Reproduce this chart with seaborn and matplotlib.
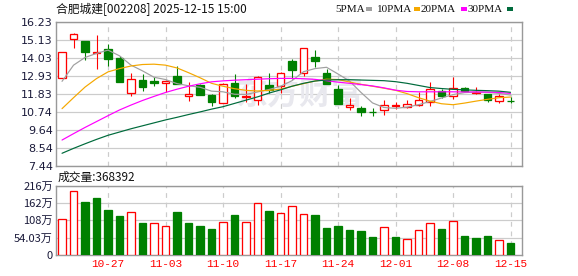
import numpy as np
import pandas as pd
import matplotlib
matplotlib.use("Agg")
import matplotlib.pyplot as plt
from matplotlib.patches import Rectangle
import seaborn as sns

# ---------------- data ----------------
dates = ['10-21','10-22','10-23','10-24','10-27','10-28','10-29','10-30','10-31',
         '11-03','11-04','11-05','11-06','11-07','11-10','11-11','11-12','11-13','11-14',
         '11-17','11-18','11-19','11-20','11-21','11-24','11-25','11-26','11-27','11-28',
         '12-01','12-02','12-03','12-04','12-05','12-08','12-09','12-10','12-11','12-12','12-15']
opens  = [12.83,15.19,15.06,14.33,14.55,14.04,11.91,12.67,12.60,12.50,12.91,11.68,12.36,11.74,
          11.30,12.52,11.62,11.48,12.36,12.32,13.83,13.14,14.08,13.11,12.15,11.02,10.99,10.73,
          10.82,11.10,11.02,11.17,11.33,12.01,11.68,12.22,11.88,11.80,11.39,11.42]
closes = [14.37,15.49,14.40,14.38,13.98,12.56,12.77,12.25,12.50,12.60,12.46,11.80,11.79,11.33,
          12.46,11.70,11.73,12.87,12.05,13.14,13.32,14.61,13.85,12.46,11.23,11.17,10.72,10.70,
          11.17,11.14,11.23,11.48,12.11,11.68,12.19,12.01,11.96,11.44,11.68,11.38]
highs  = [14.40,15.54,15.06,15.43,14.88,14.14,13.08,13.02,12.87,12.71,13.53,12.56,12.45,11.80,
          12.50,13.03,12.46,12.90,13.08,13.16,13.94,14.63,14.51,13.38,12.36,11.60,11.11,10.95,
          11.48,11.33,11.44,11.95,12.54,12.15,12.87,12.24,12.25,11.82,11.80,11.64]
lows   = [12.80,14.61,13.89,13.38,13.54,12.56,11.70,11.99,12.31,11.95,12.42,11.39,11.75,11.09,
          11.25,11.58,11.33,11.17,11.88,11.88,12.77,12.93,13.48,12.44,11.21,10.82,10.51,10.51,
          10.53,10.93,10.96,11.07,11.07,11.58,11.52,11.99,11.85,11.33,11.27,11.29]
ma5  = [12.60,13.59,14.06,14.31,14.51,14.16,13.59,13.24,12.85,12.71,12.46,12.33,12.24,12.00,
        11.96,11.81,11.80,11.95,12.10,12.30,12.64,13.19,13.38,13.46,13.05,12.62,11.92,11.28,
        11.00,10.95,11.02,11.17,11.37,11.58,11.79,11.91,11.95,11.93,11.86,11.76]
ma10 = [10.93,11.60,12.25,12.77,13.18,13.38,13.54,13.63,13.65,13.59,13.42,13.13,12.82,12.48,
        12.30,12.15,12.05,12.01,12.05,12.12,12.30,12.46,12.62,12.73,12.71,12.56,12.42,12.30,
        12.18,12.05,11.85,11.60,11.39,11.23,11.17,11.27,11.39,11.50,11.60,11.64]
ma20 = [9.01,9.40,9.78,10.14,10.50,10.85,11.15,11.43,11.68,11.92,12.12,12.30,12.45,12.57,
        12.63,12.67,12.70,12.73,12.76,12.78,12.78,12.76,12.72,12.64,12.55,12.48,12.40,12.32,
        12.20,12.06,11.98,11.96,11.96,11.96,11.96,11.95,11.95,11.94,11.92,11.86]
ma30 = [8.20,8.50,8.78,9.05,9.30,9.50,9.70,9.88,10.06,10.24,10.40,10.57,10.73,10.90,
        11.05,11.25,11.45,11.65,11.88,12.08,12.30,12.48,12.62,12.68,12.70,12.70,12.68,12.66,
        12.64,12.58,12.48,12.35,12.22,12.16,12.11,12.08,12.05,12.03,12.00,11.93]
volume = [111.0,199.4,165.0,177.6,140.0,121.5,133.0,100.7,98.7,89.3,134.0,100.7,90.3,81.0,
          101.8,124.6,101.8,161.0,137.0,130.0,152.7,127.7,124.6,84.0,90.3,77.9,74.8,56.0,
          86.2,56.0,48.8,76.8,98.7,81.0,104.9,59.2,53.0,59.2,45.7,36.8392]
price_ticks = ['16.23','15.13','14.03','12.93','11.83','10.74','9.64','8.54','7.44']
vol_tick_vals = [0, 54.03, 108, 162, 216]
vol_tick_labels = ['0', '54.03万', '108万', '162万', '216万']
title = '合肥城建[002208] 2025-12-15 15:00'
vol_title = '成交量:368392'
legend_names = ['5PMA', '10PMA', '20PMA', '30PMA']

# ---------------- style ----------------
RED = '#ff0000'
GREEN = '#008000'
MA_COLORS = ['#a0a0a0', '#f5a800', '#ff00ff', '#006b3c']
GRID = '#cccccc'
SPINE = '#999999'
W, H = 578, 276

sns.set_theme(style='white')
plt.rcParams['font.family'] = ['DejaVu Sans', 'Noto Sans CJK SC']
CJK = ['Noto Sans CJK SC', 'DejaVu Sans']

fig = plt.figure(figsize=(W / 100, H / 100), dpi=100)
fig.patch.set_facecolor('white')
L, R = 55.6, 522.0
ax = fig.add_axes([L / W, 1 - 165.7 / H, (R - L) / W, (165.7 - 22) / H])
axv = fig.add_axes([L / W, 1 - 255 / H, (R - L) / W, (255 - 185.7) / H])

n = len(dates)
x = np.arange(n)
xlim = (-0.56, n - 0.0)
tick_idx = [i for i in range(n) if dates[i] in
            ['10-27', '11-03', '11-10', '11-17', '11-24', '12-01', '12-08', '12-15']]

px = 0.72  # one pixel in points

# ---------------- price panel ----------------
pt = [float(v) for v in price_ticks]
ax.set_ylim(min(pt), max(pt))
ax.set_xlim(*xlim)
for v in pt:
    ax.axhline(v, color=GRID, lw=1.2 * px, zorder=0.2)
for i in tick_idx:
    ax.axvline(i, color=GRID, lw=1.2 * px, ls=(0, (4, 4)), zorder=0.2)

ax.text(20.6, 11.75, '东方财富', fontsize=23, color='#e8e8ee', ha='center', va='center',
        family=CJK, fontweight='bold', zorder=0.3)

bw = 0.62
for i in range(n):
    o, c, hi, lo = opens[i], closes[i], highs[i], lows[i]
    up = c >= o
    col = RED if up else GREEN
    ax.vlines(i, lo, hi, color=col, lw=1.1 * px, zorder=2)
    bottom = min(o, c)
    height = max(abs(c - o), 0.005)
    ax.bar(i, height, bottom=bottom, width=bw,
           facecolor='white' if up else GREEN, edgecolor=col,
           linewidth=1.3 * px, zorder=3)

ma_df = pd.DataFrame({'x': x, 'MA5': ma5, 'MA10': ma10, 'MA20': ma20, 'MA30': ma30})
for name, col in zip(['MA5', 'MA10', 'MA20', 'MA30'], MA_COLORS):
    sns.lineplot(data=ma_df, x='x', y=name, ax=ax, color=col, lw=1.2 * px, zorder=4)

ax.set_yticks(pt)
ax.set_yticklabels(price_ticks)
ax.set_xticks([])
ax.set_xlabel('')
ax.set_ylabel('')
ax.tick_params(axis='y', length=0, pad=2, labelsize=8, labelcolor='#1a1a3a')

# ---------------- volume panel ----------------
vol_df = pd.DataFrame({'x': x, 'vol': volume})
sns.barplot(data=vol_df, x='x', y='vol', ax=axv, native_scale=True, width=bw,
            color=GREEN, saturation=1, zorder=3)
for i, p in enumerate(axv.patches):
    vup = (closes[i] >= opens[i]) if i == 0 else (closes[i] >= closes[i - 1])
    if vup:
        p.set_facecolor('white')
        p.set_edgecolor(RED)
    else:
        p.set_facecolor(GREEN)
        p.set_edgecolor(GREEN)
    p.set_linewidth(1.3 * px)

axv.set_xlim(*xlim)
axv.set_ylim(0, 216.1)
for v in vol_tick_vals[1:]:
    axv.axhline(v, color=GRID, lw=1.2 * px, zorder=0.2)
for i in tick_idx:
    axv.axvline(i, color=GRID, lw=1.2 * px, ls=(0, (4, 4)), zorder=0.2)
axv.set_yticks(vol_tick_vals)
axv.set_yticklabels(vol_tick_labels, family=CJK)
axv.set_xticks(tick_idx)
axv.set_xticklabels([dates[i] for i in tick_idx], family=['Liberation Mono'],
                    color=RED, fontsize=8)
axv.set_xlabel('')
axv.set_ylabel('')
axv.tick_params(axis='y', length=0, pad=2, labelsize=8, labelcolor='#1a1a3a')
axv.tick_params(axis='x', length=0, pad=3)

for a in (ax, axv):
    for s in a.spines.values():
        s.set_color(SPINE)
        s.set_linewidth(1.4 * px)
    a.set_facecolor('white')

# ---------------- texts ----------------
fig.text(56 / W, 1 - 9.5 / H, title, fontsize=8.5, family=CJK, va='center', ha='left',
         color='#111111')
fig.text(58 / W, 1 - 177.5 / H, vol_title, fontsize=8.5, family=CJK, va='center', ha='left',
         color='#111111')

leg_text_x = [335, 377, 421, 468]
leg_sq_x = [366, 414, 461, 507]
for name, tx, sx, col in zip(legend_names, leg_text_x, leg_sq_x, MA_COLORS):
    fig.text(tx / W, 1 - 9.5 / H, name, fontsize=8, family=['Liberation Serif'],
             va='center', ha='left', color='#111111')
    fig.patches.append(Rectangle((sx / W, 1 - 11 / H), 6 / W, 4 / H,
                                 transform=fig.transFigure, facecolor=col,
                                 edgecolor='none'))

fig.savefig('out.png', dpi=100, facecolor='white')
